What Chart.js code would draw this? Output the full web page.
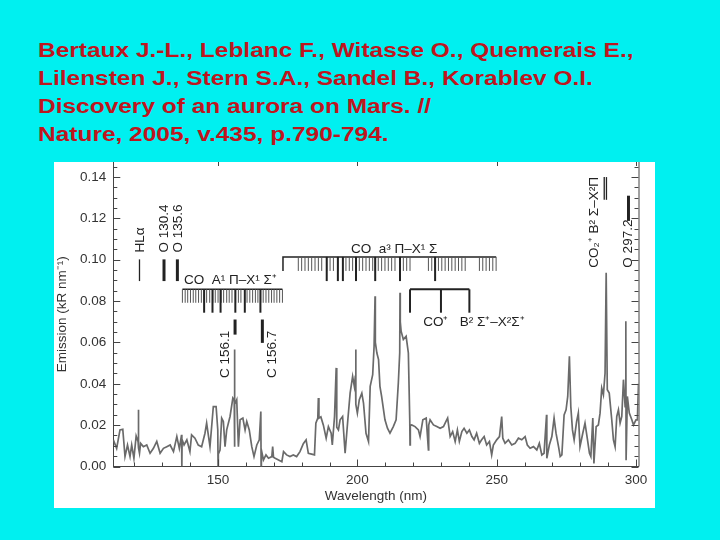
<!DOCTYPE html>
<html>
<head>
<meta charset="utf-8">
<script src="https://cdn.jsdelivr.net/npm/chart.js@4/dist/chart.umd.min.js"></script>
<style>
  html, body { margin: 0; padding: 0; }
  body { width: 720px; height: 540px; background: #00f0f0; position: relative; overflow: hidden;
         font-family: "Liberation Sans", Arial, sans-serif; }
  #title { position: absolute; left: 38px; top: 36px; color: #bd161e; font-weight: bold;
           font-size: 19.5px; line-height: 28.1px; white-space: nowrap;
           transform: scaleX(1.255); transform-origin: 0 0; }
  #panel { position: absolute; left: 54px; top: 162px; width: 601px; height: 346px; background: #fff; }
</style>
</head>
<body>
<div id="title">Bertaux J.-L., Leblanc F., Witasse O., Quemerais E.,<br>Lilensten J., Stern S.A., Sandel B., Korablev O.I.<br>Discovery of an aurora on Mars. //<br>Nature, 2005, v.435, p.790-794.</div>
<div id="panel"><canvas id="chart" width="601" height="346"></canvas></div>
<script>
// spectrum (nm, kR/nm)
const wavelength = [
  112.4, 113.6, 114.8, 115.8, 116.6, 117.5, 118.4, 119.0, 119.8, 120.6,
  121.3, 121.4, 121.5, 121.8, 122.2, 123.2, 124.4, 125.6, 126.8, 128.0,
  129.2, 130.4, 131.6, 132.8, 134.0, 135.2, 136.1, 136.9, 137.0, 137.1,
  137.8, 138.8, 139.9, 140.5, 141.7, 142.9, 144.1, 145.3, 145.9, 147.1,
  148.3, 149.3, 149.9, 150.0, 150.1, 150.7, 151.3, 151.9, 152.5, 153.1,
  154.3, 155.3, 155.8, 155.85, 155.95, 156.05, 156.7, 157.3, 157.9, 158.9,
  159.7, 160.3, 161.2, 162.1, 162.9, 163.9, 164.8, 165.35, 165.45, 165.55,
  166.3, 167.2, 168.1, 169.3, 169.6, 169.9, 170.5, 171.7, 172.9, 173.5,
  174.6, 175.8, 177.0, 178.2, 179.4, 180.6, 181.6, 182.4, 183.6, 184.6,
  185.1, 185.8, 186.0, 186.2, 186.9, 187.8, 188.8, 189.6, 190.6, 191.0,
  191.8, 192.4, 192.6, 193.2, 193.8, 194.7, 195.6, 196.6, 197.4, 198.3,
  198.9, 199.3, 199.4, 199.5, 200.0, 200.7, 201.6, 202.2, 203.1, 204.0,
  204.6, 205.5, 206.0, 206.35, 206.45, 207.0, 207.6, 208.1, 208.7, 209.9,
  210.8, 211.7, 212.9, 213.9, 214.7, 215.2, 215.3, 215.4, 215.7, 216.5,
  217.5, 218.3, 218.8, 218.9, 219.0, 219.5, 220.7, 221.9, 222.5, 223.5,
  224.7, 225.5, 225.6, 226.1, 227.3, 228.5, 229.7, 230.9, 231.8, 232.4,
  233.3, 234.2, 235.1, 235.9, 236.6, 237.5, 238.3, 239.3, 240.2, 241.1,
  241.9, 242.8, 243.8, 244.6, 245.5, 246.4, 247.4, 248.2, 248.8, 250.0,
  251.0, 251.8, 252.2, 253.0, 254.2, 255.4, 256.6, 257.8, 259.0, 260.2,
  261.0, 262.0, 263.2, 264.4, 265.3, 266.2, 267.0, 267.9, 268.0, 268.9,
  269.8, 270.6, 271.3, 272.2, 272.8, 273.4, 274.2, 274.9, 275.5, 276.1,
  276.6, 277.2, 277.8, 278.7, 279.3, 279.9, 280.9, 281.7, 282.6, 283.3,
  283.8, 284.5, 284.9, 285.7, 286.5, 287.1, 287.7, 288.3, 288.9, 289.3,
  289.7, 290.4, 291.3, 291.9, 292.5, 293.1, 293.7, 294.3, 294.9, 295.5,
  296.1, 296.35, 296.45, 296.9, 297.6, 298.5, 299.1, 300.0, 300.5, 300.9
];
const emission = [
  0.0129, 0.0088, 0.0177, 0.0180, 0.0048, 0.0104, 0.0048, 0.0104, 0.0040, 0.0148,
  0.0120, 0.0274, 0.0090, 0.0064, 0.0112, 0.0096, 0.0104, 0.0064, 0.0088, 0.0121,
  0.0064, 0.0088, 0.0096, 0.0104, 0.0072, 0.0145, 0.0088, 0.0153, 0.0000, 0.0130,
  0.0104, 0.0129, 0.0072, 0.0153, 0.0137, 0.0104, 0.0096, 0.0161, 0.0210, 0.0096,
  0.0290, 0.0290, 0.0177, 0.0000, 0.0060, 0.0080, 0.0234, 0.0218, 0.0096, 0.0177,
  0.0242, 0.0331, 0.0320, 0.0566, 0.0096, 0.0300, 0.0323, 0.0096, 0.0226, 0.0234,
  0.0177, 0.0218, 0.0177, 0.0096, 0.0048, 0.0104, 0.0129, 0.0266, 0.0000, 0.0080,
  0.0032, 0.0056, 0.0040, 0.0048, 0.0096, 0.0045, 0.0040, 0.0032, 0.0023, 0.0072,
  0.0056, 0.0048, 0.0056, 0.0048, 0.0072, 0.0110, 0.0129, 0.0064, 0.0060, 0.0056,
  0.0210, 0.0234, 0.0331, 0.0234, 0.0240, 0.0200, 0.0137, 0.0193, 0.0161, 0.0104,
  0.0242, 0.0477, 0.0190, 0.0177, 0.0226, 0.0242, 0.0064, 0.0230, 0.0355, 0.0436,
  0.0388, 0.0440, 0.0566, 0.0300, 0.0258, 0.0323, 0.0355, 0.0307, 0.0161, 0.0121,
  0.0388, 0.0444, 0.0582, 0.0824, 0.0600, 0.0549, 0.0517, 0.0388, 0.0339, 0.0226,
  0.0185, 0.0161, 0.0193, 0.0226, 0.0404, 0.0550, 0.0841, 0.0700, 0.0655, 0.0614,
  0.0630, 0.0549, 0.0226, 0.0104, 0.0200, 0.0201, 0.0193, 0.0177, 0.0145, 0.0226,
  0.0234, 0.0080, 0.0200, 0.0226, 0.0201, 0.0193, 0.0185, 0.0193, 0.0218, 0.0234,
  0.0145, 0.0169, 0.0121, 0.0177, 0.0121, 0.0169, 0.0185, 0.0161, 0.0177, 0.0145,
  0.0129, 0.0161, 0.0112, 0.0129, 0.0145, 0.0104, 0.0121, 0.0056, 0.0104, 0.0129,
  0.0145, 0.0242, 0.0137, 0.0112, 0.0129, 0.0104, 0.0112, 0.0137, 0.0129, 0.0145,
  0.0104, 0.0088, 0.0096, 0.0080, 0.0112, 0.0056, 0.0064, 0.0250, 0.0040, 0.0104,
  0.0145, 0.0234, 0.0161, 0.0096, 0.0048, 0.0056, 0.0250, 0.0274, 0.0339, 0.0533,
  0.0290, 0.0177, 0.0129, 0.0218, 0.0258, 0.0096, 0.0161, 0.0210, 0.0129, 0.0064,
  0.0048, 0.0234, 0.0015, 0.0193, 0.0201, 0.0258, 0.0379, 0.0347, 0.0452, 0.0937,
  0.0371, 0.0355, 0.0226, 0.0129, 0.0096, 0.0242, 0.0274, 0.0210, 0.0242, 0.0420,
  0.0290, 0.0703, 0.0030, 0.0339, 0.0258, 0.0226, 0.0201, 0.0226, 0.0226, 0.0400
];

const xTicks = [150, 200, 250, 300];
const yTicks = [0, 0.02, 0.04, 0.06, 0.08, 0.10, 0.12, 0.14];

// line identifications: [label, wavelength, emission where the text starts]
const verticalLabels = [
  ['HL\u03b1', 122.2, 0.1035],
  ['O 130.4', 130.6, 0.1035],
  ['O 135.6', 135.75, 0.1035],
  ['C 156.1', 152.5, 0.0428],
  ['C 156.7', 169.6, 0.0428],
  ['CO\u2082\u207a B\u00b2 \u03a3\u2013X\u00b2\u03a0', 285.0, 0.0962],
  ['O 297.2', 297.3, 0.0962]
];
// marker bars: [wavelength, from, to]
const thinMarkers = [[121.8, 0.0897, 0.1002], [288.6, 0.129, 0.140], [289.4, 0.129, 0.140]];
const thickMarkers = [[130.6, 0.0897, 0.1002], [135.4, 0.0897, 0.1002],
                      [156.1, 0.0638, 0.0711], [165.9, 0.0598, 0.0711], [297.3, 0.1188, 0.131]];

const bandLabels = [
  ['CO  A\u00b9 \u03a0\u2013X\u00b9 \u03a3\u207a', 137.8, 0.0881],
  ['CO  a\u00b3 \u03a0\u2013X\u00b9 \u03a3', 197.7, 0.1032],
  ['CO\u207a   B\u00b2 \u03a3\u207a\u2013X\u00b2\u03a3\u207a', 223.6, 0.0679]
];
const coA_short = [137.2, 138.2, 139.1, 140.1, 141.1, 142.0, 143.0, 144.0, 145.0, 145.9,
  147.0, 148.1, 149.0, 150.0, 151.1, 152.0, 153.1, 154.0, 155.0, 156.3, 157.3, 158.2,
  159.5, 160.4, 161.4, 162.4, 163.4, 164.3, 165.3, 166.2, 167.2, 168.2, 169.2, 170.1,
  171.1, 172.1, 173.1];
const coA_long = [145.0, 148.0, 150.9, 156.2, 159.6, 165.2];
const coa_short = [178.8, 180.0, 181.2, 182.4, 183.6, 184.8, 186.0, 187.2, 189.0, 190.2,
  191.4, 193.0, 194.7, 195.9, 197.1, 198.3, 199.5, 200.7, 201.9, 203.1, 204.3, 205.5,
  206.4, 207.5, 208.7, 209.9, 211.1, 212.3, 213.5, 215.3, 216.5, 217.7, 218.9, 225.5,
  226.7, 227.9, 229.1, 230.3, 231.5, 232.7, 233.9, 235.1, 236.3, 237.5, 238.7, 243.8,
  245.0, 246.2, 247.4, 248.6, 249.8];
const coa_long = [189.0, 193.0, 194.8, 199.5, 206.4, 215.3, 227.9];
const coPlus = [218.9, 230.0, 240.2];

const INK = '#222';
const AXIS = '#444';
const LABEL_FONT = '13.5px "Liberation Sans", Arial, sans-serif';

function vline(ctx, x, y0, y1) {
  ctx.beginPath(); ctx.moveTo(x, y0); ctx.lineTo(x, y1); ctx.stroke();
}

const axisTicks = {
  id: 'axisTicks',
  afterDraw(chart) {
    const { ctx, chartArea: a, scales: { x, y } } = chart;
    ctx.save();
    ctx.strokeStyle = AXIS;
    ctx.lineWidth = 1;
    vline(ctx, a.right + 0.5, a.top, a.bottom);
    for (let i = 0; i <= 29; i++) {
      const v = i * 0.005;
      const py = Math.round(y.getPixelForValue(v)) + 0.5;
      const len = i % 4 === 0 ? 7 : 4;
      ctx.beginPath();
      ctx.moveTo(a.left, py); ctx.lineTo(a.left + len, py);
      ctx.moveTo(a.right, py); ctx.lineTo(a.right - len, py);
      ctx.stroke();
    }
    for (let w = 120; w <= 300; w += 10) {
      const px = Math.round(x.getPixelForValue(w)) + 0.5;
      const major = w % 50 === 0;
      vline(ctx, px, a.bottom, a.bottom - (major ? 7 : 4));
      if (major) vline(ctx, px, a.top, a.top + 4);
    }
    ctx.restore();
  }
};

const annotations = {
  id: 'annotations',
  afterDatasetsDraw(chart) {
    const { ctx, scales: { x, y } } = chart;
    const X = v => x.getPixelForValue(v);
    const Y = v => y.getPixelForValue(v);
    ctx.save();
    ctx.strokeStyle = INK;
    ctx.fillStyle = INK;

    ctx.lineWidth = 1.3;
    thinMarkers.forEach(m => vline(ctx, X(m[0]), Y(m[1]), Y(m[2])));
    ctx.lineWidth = 3;
    thickMarkers.forEach(m => vline(ctx, X(m[0]), Y(m[1]), Y(m[2])));

    // CO Fourth Positive comb
    ctx.lineWidth = 1.5;
    ctx.beginPath(); ctx.moveTo(X(137.2), Y(0.0857)); ctx.lineTo(X(173.1), Y(0.0857)); ctx.stroke();
    ctx.lineWidth = 1;
    ctx.strokeStyle = '#555';
    coA_short.forEach(w => vline(ctx, X(w), Y(0.0857), Y(0.0792)));
    ctx.strokeStyle = INK;
    ctx.lineWidth = 2;
    coA_long.forEach(w => vline(ctx, X(w), Y(0.0857), Y(0.0744)));

    // CO Cameron comb
    ctx.lineWidth = 1.5;
    ctx.beginPath();
    ctx.moveTo(X(173.3), Y(0.0946)); ctx.lineTo(X(173.3), Y(0.1014)); ctx.lineTo(X(249.8), Y(0.1014));
    ctx.stroke();
    ctx.lineWidth = 1;
    ctx.strokeStyle = '#555';
    coa_short.forEach(w => vline(ctx, X(w), Y(0.1014), Y(0.0946)));
    ctx.strokeStyle = INK;
    ctx.lineWidth = 2;
    coa_long.forEach(w => vline(ctx, X(w), Y(0.1014), Y(0.0897)));

    // CO+ first negative bracket
    ctx.lineWidth = 2;
    ctx.beginPath(); ctx.moveTo(X(coPlus[0]), Y(0.0857)); ctx.lineTo(X(coPlus[2]), Y(0.0857)); ctx.stroke();
    coPlus.forEach(w => vline(ctx, X(w), Y(0.0857), Y(0.0744)));

    ctx.font = LABEL_FONT;
    ctx.textAlign = 'left';
    ctx.textBaseline = 'alphabetic';
    bandLabels.forEach(l => ctx.fillText(l[0], X(l[1]), Y(l[2])));

    ctx.textBaseline = 'middle';
    verticalLabels.forEach(l => {
      ctx.save();
      ctx.translate(X(l[1]), Y(l[2]));
      ctx.rotate(-Math.PI / 2);
      ctx.fillText(l[0], 0, 0);
      ctx.restore();
    });
    ctx.restore();
  }
};

const tickFont = { family: '"Liberation Sans", Arial, sans-serif', size: 13.5 };

new Chart(document.getElementById('chart'), {
  type: 'line',
  data: {
    datasets: [{
      data: wavelength.map((w, i) => ({ x: w, y: emission[i] })),
      borderColor: '#6a6a6a',
      borderWidth: 1.7,
      pointRadius: 0,
      tension: 0,
      fill: false
    }]
  },
  options: {
    responsive: false,
    animation: false,
    layout: { padding: { top: 0, right: 16.5, bottom: 0, left: 0 } },
    plugins: { legend: { display: false }, tooltip: { enabled: false } },
    scales: {
      x: {
        type: 'linear',
        min: 112.4,
        max: 300.9,
        afterBuildTicks: s => { s.ticks = xTicks.map(v => ({ value: v })); },
        afterFit: s => { s.height = 41.5; s.paddingLeft = 0; s.paddingRight = 0; },
        grid: { display: false, drawTicks: false },
        border: { display: true, color: AXIS, width: 1 },
        ticks: { font: tickFont, color: '#333', padding: 6, maxRotation: 0, autoSkip: false,
                 callback: v => String(v) },
        title: { display: true, text: 'Wavelength (nm)', font: tickFont, color: '#333',
                 padding: { top: 0, bottom: 4 } }
      },
      y: {
        min: 0,
        max: 0.1473,
        afterBuildTicks: s => { s.ticks = yTicks.map(v => ({ value: v })); },
        afterFit: s => { s.width = 59.3; s.paddingTop = 0; s.paddingBottom = 0; },
        grid: { display: false, drawTicks: false },
        border: { display: true, color: AXIS, width: 1 },
        ticks: { font: tickFont, color: '#333', padding: 7, callback: v => v.toFixed(2) },
        title: { display: true, text: 'Emission (kR nm\u207b\u00b9)', font: tickFont, color: '#333',
                 padding: { top: 0, bottom: 0 } }
      }
    }
  },
  plugins: [annotations, axisTicks]
});
</script>
</body>
</html>
